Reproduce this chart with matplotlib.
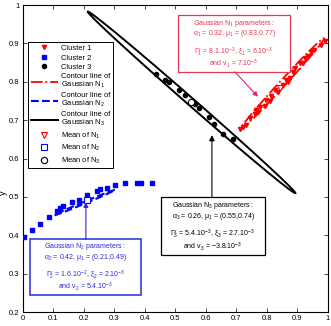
import numpy as np
import matplotlib.pyplot as plt
from matplotlib.patches import Rectangle

plt.rcParams['font.family'] = ['Liberation Sans', 'DejaVu Sans']
plt.rcParams['mathtext.fontset'] = 'custom'
plt.rcParams['mathtext.rm'] = 'Liberation Sans'
plt.rcParams['mathtext.it'] = 'Liberation Sans'
plt.rcParams['mathtext.default'] = 'regular'

# Cluster 1 (red)
c1_x = [0.713, 0.722, 0.733, 0.745, 0.760, 0.766, 0.771, 0.776, 0.793, 0.798, 0.810, 0.815,
        0.826, 0.836, 0.853, 0.864, 0.870, 0.875, 0.886, 0.891, 0.907, 0.920, 0.924, 0.935,
        0.945, 0.956, 0.978, 0.989]
c1_y = [0.676, 0.683, 0.687, 0.705, 0.717, 0.726, 0.722, 0.733, 0.737, 0.752, 0.750, 0.763,
        0.778, 0.774, 0.791, 0.804, 0.800, 0.811, 0.826, 0.835, 0.848, 0.850, 0.861, 0.867,
        0.878, 0.884, 0.896, 0.907]

# Cluster 2 (blue)
c2_x = [0.004, 0.032, 0.057, 0.086, 0.113, 0.122, 0.133, 0.160, 0.185, 0.212, 0.242, 0.253,
        0.277, 0.302, 0.336, 0.373, 0.387, 0.425]
c2_y = [0.396, 0.415, 0.429, 0.448, 0.463, 0.472, 0.477, 0.486, 0.493, 0.504, 0.515, 0.520,
        0.524, 0.530, 0.535, 0.537, 0.537, 0.537]

# Cluster 3 (black)
c3_x = [0.436, 0.467, 0.479, 0.511, 0.531, 0.564, 0.577, 0.610, 0.627, 0.655, 0.688]
c3_y = [0.820, 0.804, 0.799, 0.778, 0.765, 0.743, 0.732, 0.707, 0.691, 0.665, 0.650]

# means
mean1 = (0.842, 0.783)
mean2 = (0.212, 0.491)
mean3 = (0.551, 0.746)

# contour ellipses: center, half major axis, half minor axis
ell1_center, ell1_major, ell1_minor = (0.850, 0.7945), (0.138, 0.1195), (0.0073, -0.0053)
ell2_center, ell2_major, ell2_minor = (0.2025, 0.485), (0.0995, 0.033), (-0.0012, 0.0024)
ell3_center, ell3_major, ell3_minor = (0.553, 0.7465), (0.340, -0.2365), (0.0080, 0.0072)

txt1 = ['Gaussian N$_1$ parameters :',
        r'$\alpha_1$ = 0.32, $\mu_1$ = (0.83,0.77)',
        r'$\Gamma_1^x$ = 8.1.10$^{-3}$, $\xi_1$ = 6.10$^{-3}$',
        'and v$_1$ = 7.10$^{-3}$']
txt2 = ['Gaussian N$_2$ parameters :',
        r'$\alpha_2$ = 0.42, $\mu_1$ = (0.21,0.49)',
        r'$\Gamma_2^x$ = 1.6.10$^{-2}$, $\xi_2$ = 2.10$^{-3}$',
        'and v$_2$ = 5.4.10$^{-3}$']
txt3 = ['Gaussian N$_3$ parameters :',
        r'$\alpha_3$ = 0.26, $\mu_1$ = (0.55,0.74)',
        r'$\Gamma_3^x$ = 5.4.10$^{-3}$, $\xi_3$ = 2.7.10$^{-3}$',
        'and v$_3$ = \u22123.8.10$^{-3}$']

red = '#ff0000'
blue = '#0000ff'
box_red = '#e8384f'
arrow_red = '#d8247c'
box_blue = '#2b2bd8'


def ellipse(center, major, minor):
    t = np.linspace(0, 2 * np.pi, 300)
    x = center[0] + np.cos(t) * major[0] + np.sin(t) * minor[0]
    y = center[1] + np.cos(t) * major[1] + np.sin(t) * minor[1]
    return x, y


def text_box(ax, x0, y0, x1, y1, lines, color, lw):
    # annotation textbox with fixed size (axes fraction), 4 lines with a gap in the middle
    ax.add_patch(Rectangle((x0, y0), x1 - x0, y1 - y0, transform=ax.transAxes,
                           fc='white', ec=color, lw=lw, zorder=5))
    for frac, line in zip([0.14, 0.33, 0.65, 0.86], lines):
        ax.text((x0 + x1) / 2, y1 - frac * (y1 - y0), line, transform=ax.transAxes,
                ha='center', va='center', fontsize=5.0, color=color, zorder=6)


def arrow(ax, start, end, color, scale):
    ax.annotate('', xy=end, xytext=start, zorder=6,
                arrowprops=dict(arrowstyle='-|>', color=color, lw=0.8,
                                mutation_scale=scale, shrinkA=0, shrinkB=0))


fig = plt.figure(figsize=(3.31, 3.26), dpi=100)
ax = fig.add_axes([0.0686, 0.0429, 0.922, 0.9417])

ax.plot(c1_x, c1_y, 'v', color=red, ms=3, mec=red, label='Cluster 1', zorder=3)
ax.plot(c2_x, c2_y, 's', color=blue, ms=2.8, mec=blue, label='Cluster 2', zorder=3)
ax.plot(c3_x, c3_y, 'o', color='black', ms=3, label='Cluster 3', zorder=3)

x, y = ellipse(ell1_center, ell1_major, ell1_minor)
ax.plot(x, y, '-.', color=red, lw=1.3, label='Contour line of\nGaussian N$_1$')
x, y = ellipse(ell2_center, ell2_major, ell2_minor)
ax.plot(x, y, '--', color=blue, lw=1.5, label='Contour line of\nGaussian N$_2$')
x, y = ellipse(ell3_center, ell3_major, ell3_minor)
ax.plot(x, y, '-', color='black', lw=1.4, label='Contour line of\nGaussian N$_3$')

ax.plot(*mean1, 'v', mfc='white', mec=red, ms=4.5, mew=0.8, label='Mean of N$_1$', zorder=4)
ax.plot(*mean2, 's', mfc='white', mec=blue, ms=4, mew=0.8, label='Mean of N$_2$', zorder=4)
ax.plot(*mean3, 'o', mfc='white', mec='black', ms=4.5, mew=0.8, label='Mean of N$_3$', zorder=4)

text_box(ax, 0.509, 0.782, 0.876, 0.967, txt1, box_red, 0.9)
text_box(ax, 0.453, 0.186, 0.794, 0.375, txt3, 'black', 0.9)
text_box(ax, 0.024, 0.057, 0.388, 0.237, txt2, box_blue, 1.1)

arrow(ax, (0.695, 0.826), (0.771, 0.761), arrow_red, 7)
arrow(ax, (0.620, 0.500), (0.620, 0.661), 'black', 8)
arrow(ax, (0.207, 0.389), (0.207, 0.486), box_blue, 7)

ax.set_xlim(0, 1)
ax.set_ylim(0.2, 1)
ax.set_xticks(np.arange(0, 1.01, 0.1))
ax.set_yticks(np.arange(0.2, 1.01, 0.1))
ax.set_xticklabels(['0', '0.1', '0.2', '0.3', '0.4', '0.5', '0.6', '0.7', '0.8', '0.9', '1'])
ax.set_yticklabels(['0.2', '0.3', '0.4', '0.5', '0.6', '0.7', '0.8', '0.9', '1'])
ax.tick_params(direction='in', top=True, right=True, length=3, width=0.5,
               labelsize=5.5, pad=2.5)
for s in ax.spines.values():
    s.set_linewidth(0.8)
ax.set_xlabel('x', fontsize=6.5, labelpad=1)
ax.set_ylabel('y', fontsize=6.5)
ax.yaxis.set_label_coords(-0.047, 0.388)

leg = ax.legend(loc='upper left', bbox_to_anchor=(0.017, 0.879), fontsize=5.4,
                handlelength=3.6, labelspacing=0.3, borderpad=0.35, handletextpad=0.4,
                borderaxespad=0, fancybox=False, edgecolor='black', framealpha=1)
leg.get_frame().set_linewidth(0.7)
for t in leg.get_texts():
    t.set_linespacing(0.95)

fig.savefig('out.png', dpi=100)
